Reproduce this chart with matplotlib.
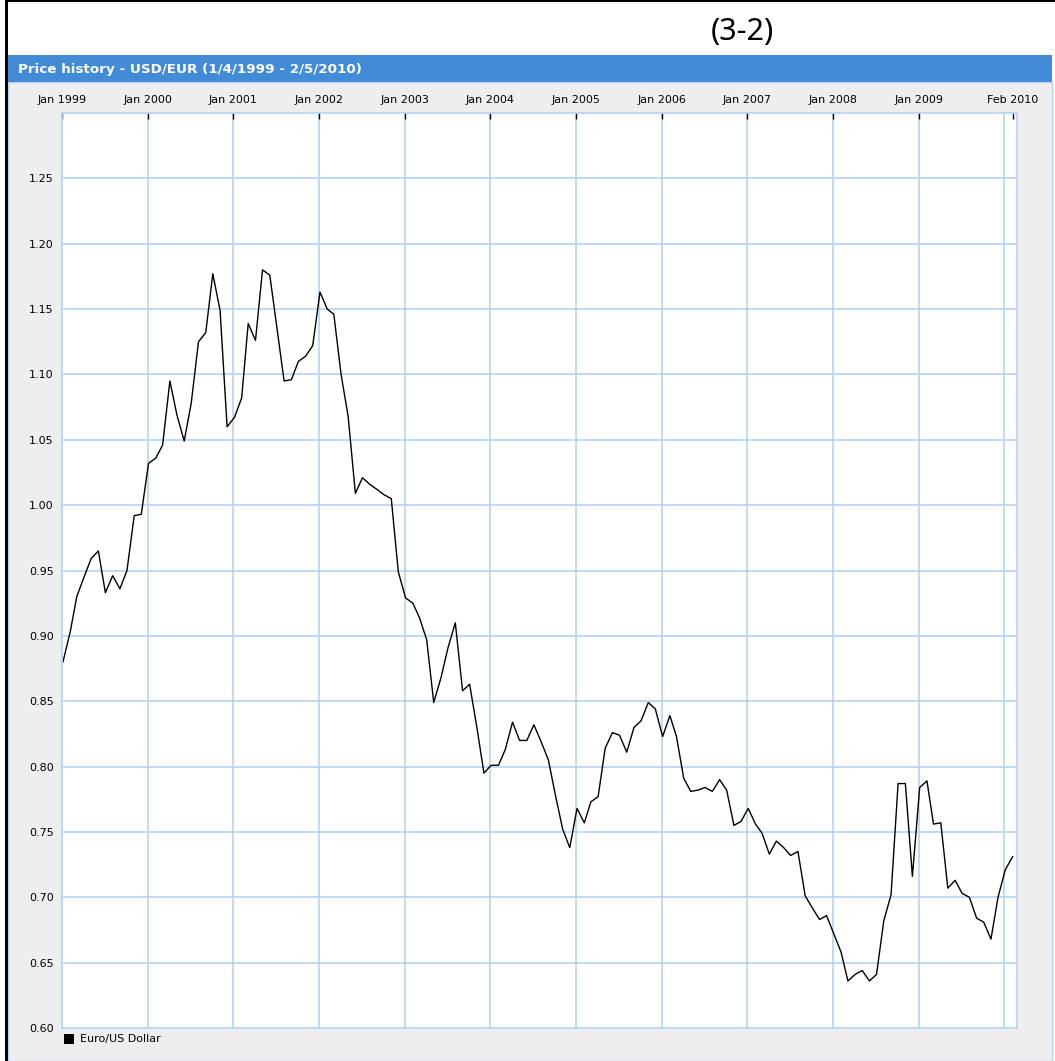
import numpy as np
import pandas as pd
import matplotlib
matplotlib.use("Agg")
import matplotlib.pyplot as plt
import matplotlib.dates as mdates
from matplotlib.patches import Rectangle

# monthly USD/EUR readings, Jan 1999 .. Feb 2010
rates = [
    0.880, 0.903, 0.930, 0.945, 0.959, 0.965, 0.933, 0.946, 0.936, 0.950, 0.992, 0.993,
    1.032, 1.036, 1.046, 1.095, 1.069, 1.049, 1.078, 1.125, 1.132, 1.177, 1.149, 1.060,
    1.067, 1.082, 1.139, 1.126, 1.180, 1.176, 1.136, 1.095, 1.096, 1.110, 1.114, 1.122,
    1.163, 1.150, 1.146, 1.100, 1.068, 1.009, 1.021, 1.016, 1.012, 1.008, 1.005, 0.949,
    0.929, 0.925, 0.914, 0.897, 0.849, 0.868, 0.891, 0.910, 0.858, 0.863, 0.830, 0.795,
    0.801, 0.801, 0.813, 0.834, 0.820, 0.820, 0.832, 0.819, 0.805, 0.778, 0.752, 0.738,
    0.768, 0.757, 0.773, 0.777, 0.814, 0.826, 0.824, 0.811, 0.830, 0.835, 0.849, 0.844,
    0.823, 0.839, 0.823, 0.791, 0.781, 0.782, 0.784, 0.781, 0.790, 0.782, 0.755, 0.758,
    0.768, 0.756, 0.749, 0.733, 0.743, 0.738, 0.732, 0.735, 0.701, 0.692, 0.683, 0.686,
    0.672, 0.658, 0.636, 0.641, 0.644, 0.636, 0.641, 0.682, 0.702, 0.787, 0.787, 0.716,
    0.784, 0.789, 0.756, 0.757, 0.707, 0.713, 0.703, 0.700, 0.684, 0.681, 0.668, 0.700,
    0.721, 0.731,
]
dates = pd.date_range("1999-01-01", periods=len(rates), freq="MS") + pd.Timedelta(days=4)

tick_dates = list(pd.date_range("1999-01-01", "2009-01-01", freq="YS")) + [pd.Timestamp("2010-02-05")]
tick_labels = [d.strftime("Jan %Y") for d in tick_dates[:-1]] + ["Feb 2010"]
grid_dates = pd.date_range("2000-01-01", "2010-01-01", freq="YS")
y_ticks = [0.60, 0.65, 0.70, 0.75, 0.80, 0.85, 0.90, 0.95, 1.00, 1.05, 1.10, 1.15, 1.20, 1.25]

title = "Price history - USD/EUR (1/4/1999 - 2/5/2010)"
series_name = "Euro/US Dollar"

W, H = 1055, 1061
fig = plt.figure(figsize=(W / 100, H / 100), dpi=100)
fig.patch.set_facecolor("white")

grid_col = "#b4d2f2"
blue = "#428bd7"


def box(x0, y0, x1, y1, z=-5, **kw):
    # rectangle in pixel coordinates, y measured from the top
    r = Rectangle((x0 / W, 1 - y1 / H), (x1 - x0) / W, (y1 - y0) / H,
                  transform=fig.transFigure, zorder=z, **kw)
    fig.add_artist(r)


box(8, 82, 1052, 1061, facecolor="#eeeeee", edgecolor=grid_col, linewidth=1)
box(8, 55, 1052, 82, facecolor=blue, edgecolor="none")
box(5, 0, 8, 1061, z=5, facecolor="black", edgecolor="none")
box(5, 0, 1055, 2, z=5, facecolor="black", edgecolor="none")

fig.text(18 / W, 1 - 69 / H, title, color="white", fontsize=9.7, fontweight="bold",
         va="center", ha="left")
fig.text(742 / W, 1 - 32 / H, "(3-2)", fontsize=22, family="Noto Sans",
         va="center", ha="center")

ax = fig.add_axes([62 / W, 1 - 1028 / H, (1017 - 62) / W, (1028 - 113) / H])
ax.set_facecolor("white")
ax.plot(dates, rates, color="black", linewidth=1.0)

ax.set_xlim(pd.Timestamp("1999-01-01"), pd.Timestamp("2010-02-24"))
ax.set_ylim(0.60, 1.30)

for d in grid_dates:
    ax.axvline(d, color=grid_col, linewidth=1.2, zorder=0)
for v in y_ticks[1:]:
    ax.axhline(v, color=grid_col, linewidth=1.2, zorder=0)

ax.xaxis.tick_top()
ax.set_xticks(tick_dates)
ax.set_xticklabels(tick_labels)
ax.set_yticks(y_ticks)
ax.set_yticklabels(["%.2f" % v for v in y_ticks])
ax.tick_params(axis="x", direction="in", length=4, width=1, color="black",
               labelsize=8, pad=6)
ax.tick_params(axis="y", length=0, labelsize=8, pad=6)
for s in ax.spines.values():
    s.set_color(grid_col)
    s.set_linewidth(1.2)

# legend below the plot
box(64, 1034, 74, 1044, z=5, facecolor="black", edgecolor="none")
fig.text(80 / W, 1 - 1039 / H, series_name, fontsize=8, va="center", ha="left")

fig.savefig("out.png", dpi=100)
